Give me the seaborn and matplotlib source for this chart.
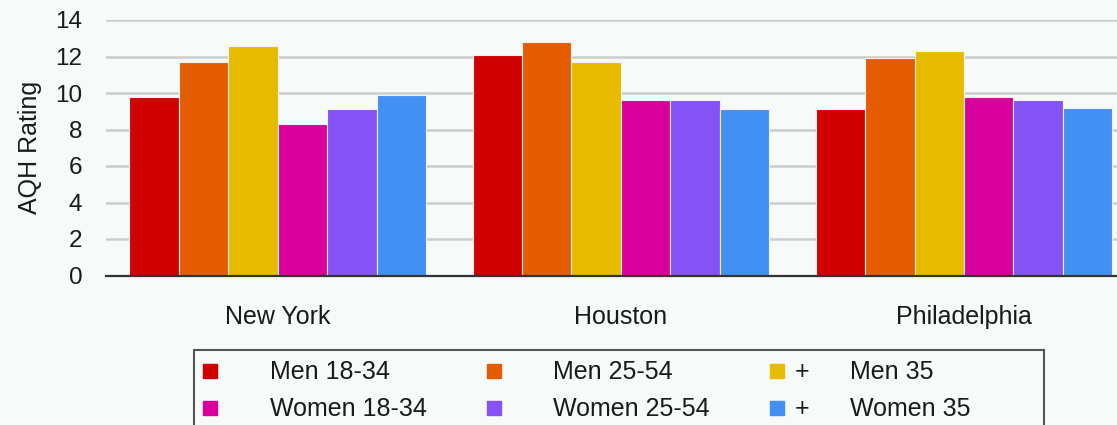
import matplotlib
matplotlib.use("Agg")
import matplotlib.pyplot as plt
import pandas as pd
import seaborn as sns
from matplotlib.lines import Line2D
from matplotlib.patches import Rectangle

# Average-quarter-hour ratings by market and demographic
markets = ["New York", "Houston", "Philadelphia"]
demographics = ["Men 18-34", "Men 25-54", "Men 35", "Women 18-34", "Women 25-54", "Women 35"]
men_18_34 = [9.8, 12.1, 9.1]
men_25_54 = [11.7, 12.8, 11.9]
men_35 = [12.6, 11.7, 12.3]
women_18_34 = [8.3, 9.6, 9.8]
women_25_54 = [9.1, 9.6, 9.6]
women_35 = [9.9, 9.1, 9.2]
y_ticks = [0, 2, 4, 6, 8, 10, 12, 14]
legend_labels = ["Men 18-34", "Men 25-54", "  Men 35", "Women 18-34", "Women 25-54", "  Women 35"]
plus_marked = [False, False, True, False, False, True]
palette = ["#D00000", "#E65C00", "#E7BB00", "#D9009B", "#8452F5", "#4390F4"]

series = [men_18_34, men_25_54, men_35, women_18_34, women_25_54, women_35]
df = pd.DataFrame(
    [(m, d, vals[i]) for d, vals in zip(demographics, series) for i, m in enumerate(markets)],
    columns=["market", "demo", "rating"],
)

bg = "#F6FAF8"
sns.set_theme(style="white")
plt.rcParams["font.family"] = ["Liberation Sans", "DejaVu Sans"]
plt.rcParams["text.color"] = "#1a1a1a"

W, H = 1117, 425
fig = plt.figure(figsize=(W / 100, H / 100), dpi=100, facecolor=bg)
ax = fig.add_axes([106 / W, 1 - 275.5 / H, (W - 106) / W, (275.5 - 20) / H])
ax.set_facecolor(bg)

sns.barplot(
    data=df, x="market", y="rating", hue="demo", order=markets, hue_order=demographics,
    palette=palette, width=0.865, saturation=1, edgecolor="#F3F3F3", linewidth=0.8,
    legend=False, ax=ax, zorder=3,
)

ax.set_xlim(-0.501, 2.446)
ax.set_ylim(0, 14)
ax.set_yticks(y_ticks)
ax.set_yticklabels([str(t) for t in y_ticks])
ax.yaxis.grid(True, color="#CCCCCC", linewidth=1.8, zorder=0)
ax.set_axisbelow(True)
for side in ["left", "right", "top"]:
    ax.spines[side].set_visible(False)
ax.spines["bottom"].set_color("#333333")
ax.spines["bottom"].set_linewidth(1.6)
ax.spines["bottom"].set_zorder(4)
ax.tick_params(axis="y", length=0, pad=17, labelsize=17.5, labelcolor="#1a1a1a")
ax.tick_params(axis="x", length=0, pad=21, labelsize=18, labelcolor="#1a1a1a")
ax.set_xlabel("")
ax.set_ylabel("AQH Rating", fontsize=18, color="#1a1a1a")
ax.yaxis.set_label_coords(-0.063, 0.5)

# Legend: 3 columns, row-major ordering
handles = [
    Line2D([], [], linestyle="none", marker="s", markersize=10,
           markerfacecolor=c, markeredgecolor=c)
    for c in palette
]
order = [0, 3, 1, 4, 2, 5]
leg = fig.legend(
    [handles[i] for i in order], [legend_labels[i] for i in order],
    loc="upper left", bbox_to_anchor=(194 / W, 1 - 354 / H), borderaxespad=0,
    ncol=3, frameon=False, fontsize=18, handlelength=0.82, handletextpad=1.97,
    columnspacing=2.27, borderpad=0.25, labelspacing=0.52,
)
fig.patches.append(Rectangle((194 / W, -0.1), (1044 - 194) / W, 1.1 - 350 / H,
                             transform=fig.transFigure, fill=False,
                             edgecolor="#555555", linewidth=1.5))

fig.canvas.draw()
renderer = fig.canvas.get_renderer()
texts = leg.get_texts()
for idx, t in zip(order, texts):
    if plus_marked[idx]:
        bb = t.get_window_extent(renderer)
        fig.text((bb.x0 - 42) / W, bb.y0 / H, "+", fontsize=18, va="bottom", ha="left",
                 color="#1a1a1a")

fig.savefig("out.png", dpi=100, facecolor=bg)
